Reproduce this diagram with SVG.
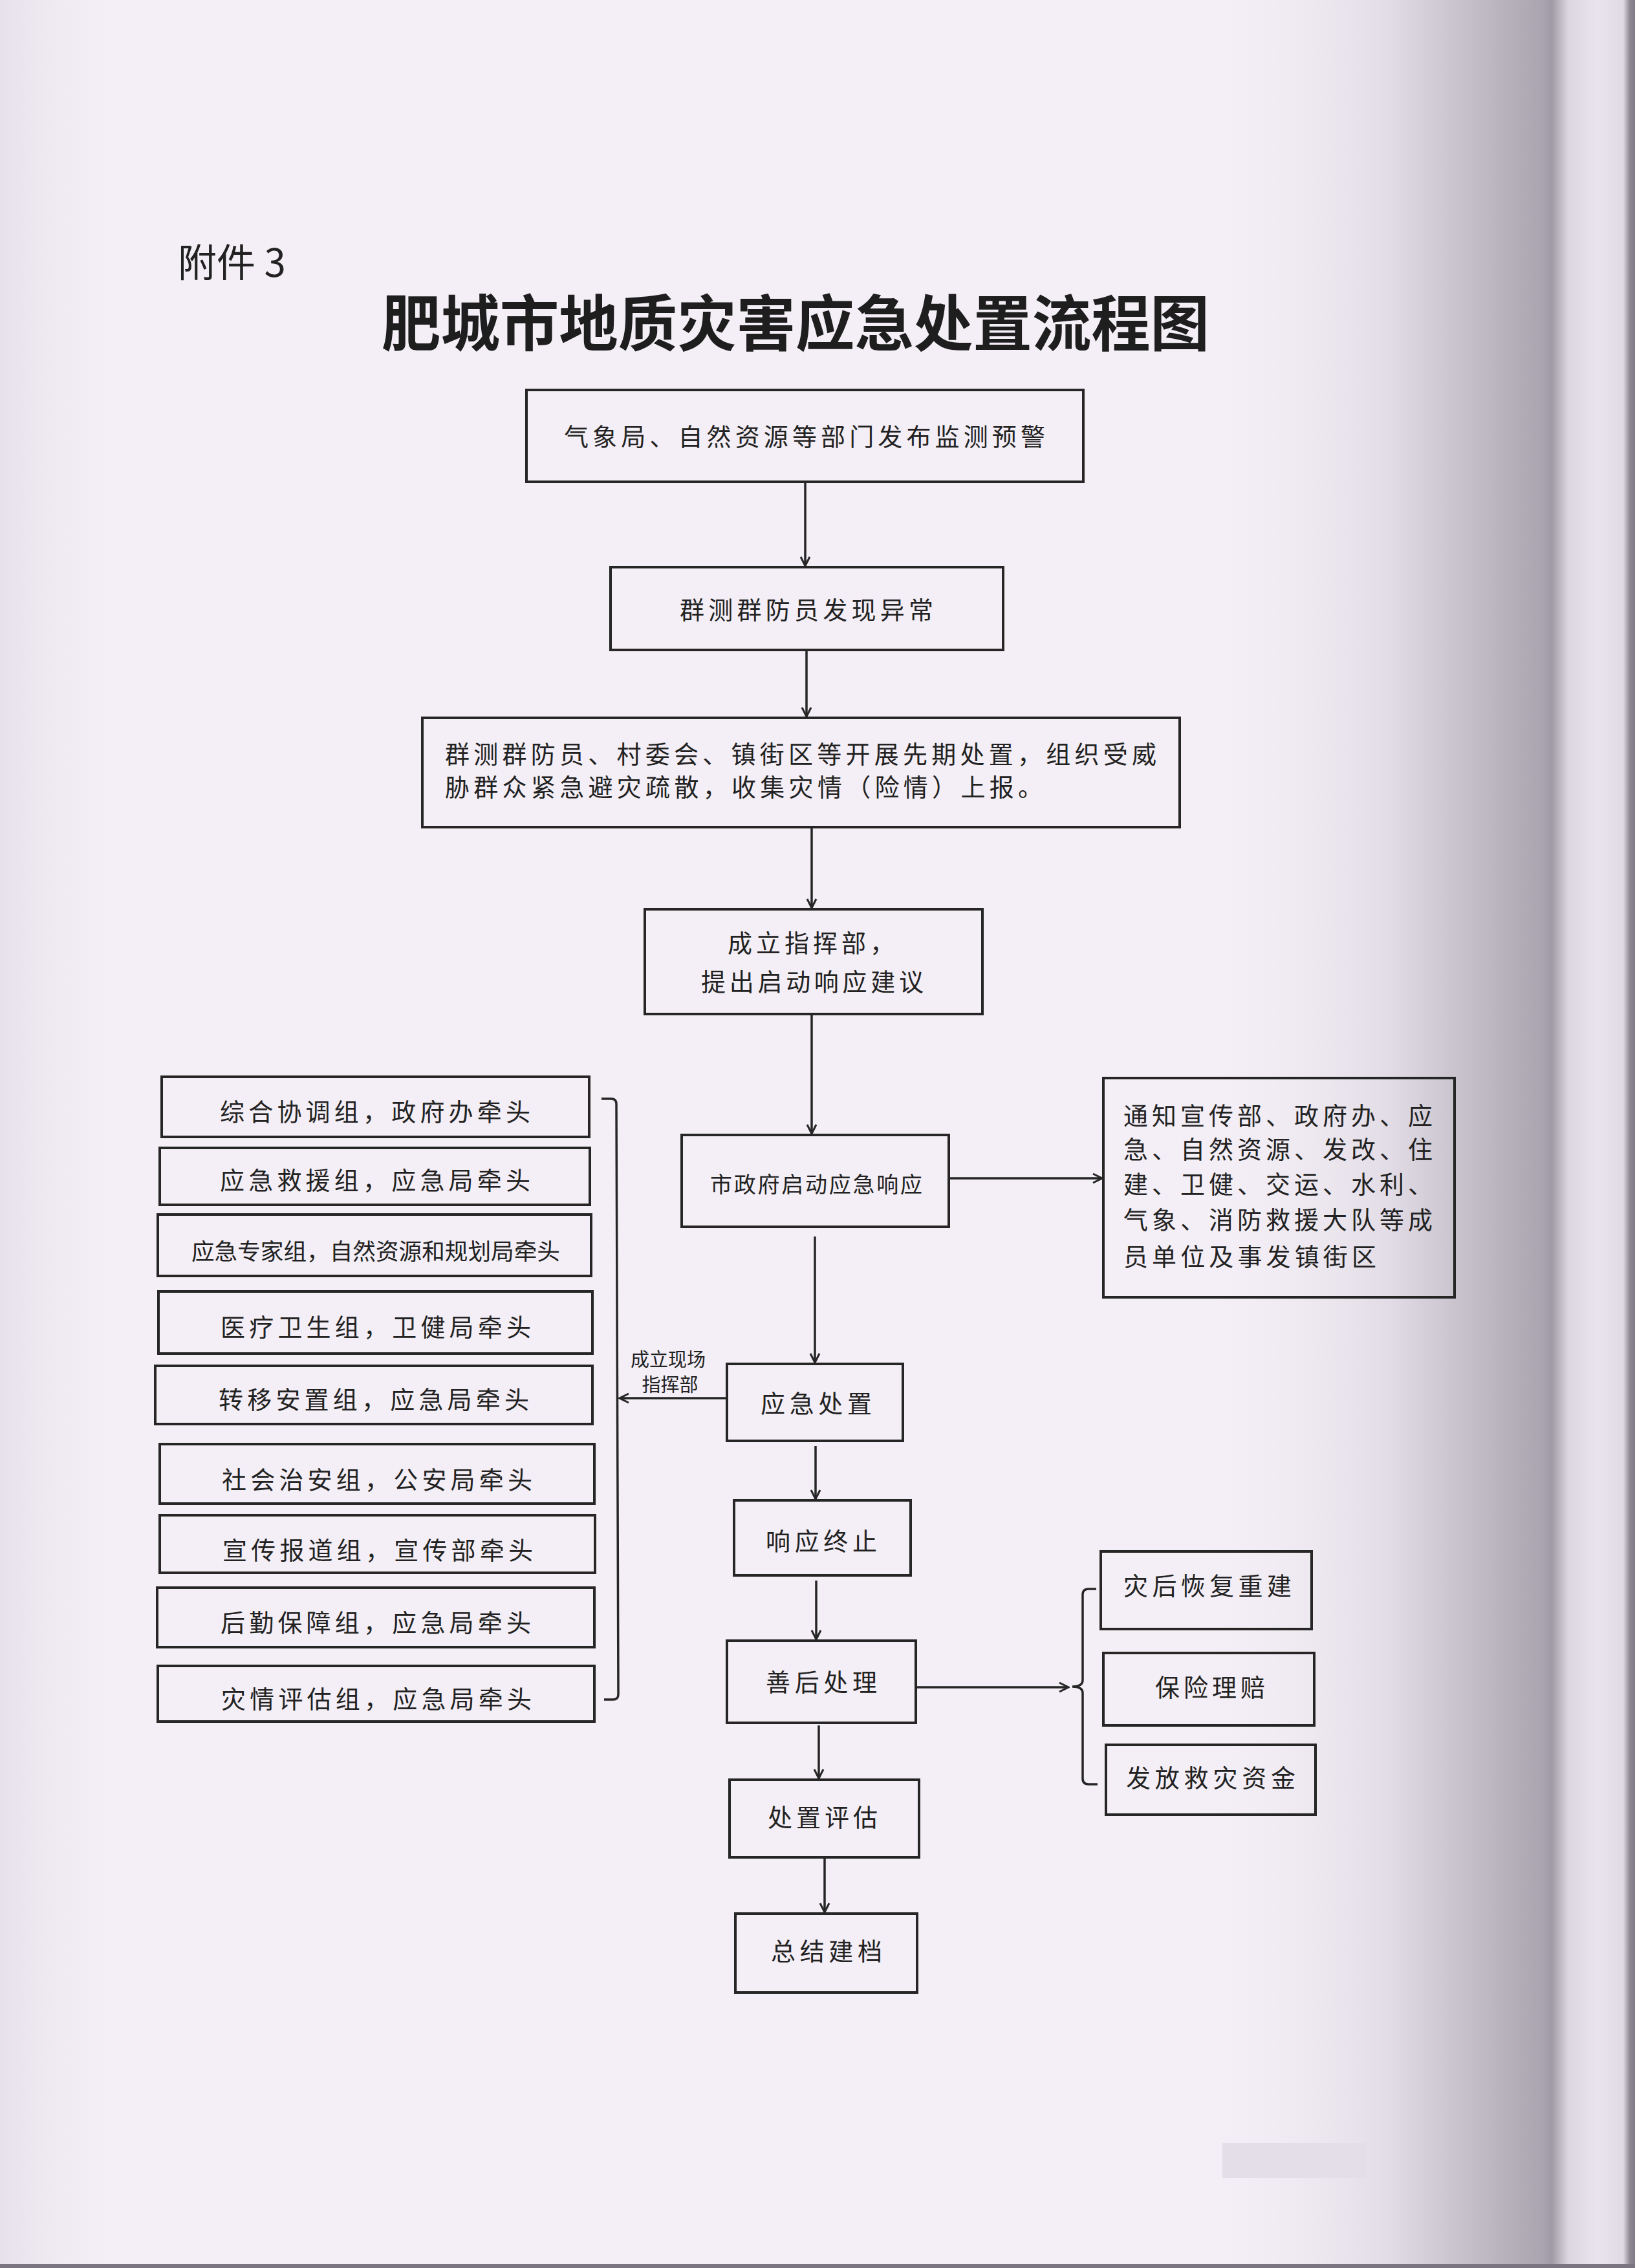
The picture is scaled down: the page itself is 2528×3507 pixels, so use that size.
<svg xmlns="http://www.w3.org/2000/svg" width="2528" height="3507" viewBox="0 0 2528 3507">
<defs>
<linearGradient id="edge" x1="1850" y1="0" x2="2528" y2="0" gradientUnits="userSpaceOnUse">
<stop offset="0" stop-color="#f4eff6" stop-opacity="0"/>
<stop offset="0.44" stop-color="#e2dce6"/>
<stop offset="0.79" stop-color="#aaa4b0"/>
<stop offset="0.81" stop-color="#a09aa6"/>
<stop offset="0.848" stop-color="#dcd6e0"/>
<stop offset="0.914" stop-color="#eae4ee"/>
<stop offset="0.973" stop-color="#e0dae4"/>
<stop offset="0.988" stop-color="#8f8a95"/>
<stop offset="1" stop-color="#7e7984"/>
</linearGradient>
<linearGradient id="ledge" x1="0" y1="0" x2="200" y2="0" gradientUnits="userSpaceOnUse">
<stop offset="0" stop-color="#e6e1ea"/>
<stop offset="1" stop-color="#f4eff6" stop-opacity="0"/>
</linearGradient>
<marker id="arr" markerUnits="userSpaceOnUse" markerWidth="18" markerHeight="18" viewBox="0 0 18 18" refX="16" refY="9" orient="auto">
<path d="M2,2 L16,9 L2,16" fill="none" stroke="#262626" stroke-width="3"/>
</marker>
</defs>
<style>
.bx{fill:none;stroke:#262626;stroke-width:4}
.ln{fill:none;stroke:#262626;stroke-width:3.5}
.t{font-family:"Noto Sans CJK SC","Noto Sans CJK JP",sans-serif;font-size:38px;fill:#222;text-anchor:middle}
.tl{font-family:"Noto Sans CJK SC","Noto Sans CJK JP",sans-serif;font-size:38px;fill:#222;text-anchor:start}
.ts{font-family:"Noto Sans CJK SC","Noto Sans CJK JP",sans-serif;font-size:29px;fill:#222;text-anchor:middle}
</style>
<rect x="0" y="0" width="2528" height="3507" fill="#f4eff6"/>
<rect x="0" y="0" width="200" height="3507" fill="url(#ledge)"/>
<rect x="1850" y="0" width="678" height="3507" fill="url(#edge)"/>
<rect x="1890" y="3314" width="224" height="54" fill="#e4dee8"/>
<rect x="0" y="3501" width="2528" height="6" fill="#7a7580"/>

<text x="275" y="428" style="font-family:'Noto Sans CJK SC',sans-serif;font-size:60px;fill:#222">附件 3</text>
<text x="590" y="535" textLength="1280" lengthAdjust="spacingAndGlyphs" style="font-family:'Noto Sans CJK SC',sans-serif;font-size:94px;font-weight:700;fill:#1e1e1e">肥城市地质灾害应急处置流程图</text>

<g id="connectors">
<line class="ln" x1="1245" y1="745" x2="1245" y2="875" marker-end="url(#arr)"/>
<line class="ln" x1="1247" y1="1005" x2="1247" y2="1108" marker-end="url(#arr)"/>
<line class="ln" x1="1255" y1="1279" x2="1255" y2="1404" marker-end="url(#arr)"/>
<line class="ln" x1="1255" y1="1568" x2="1255" y2="1753" marker-end="url(#arr)"/>
<line class="ln" x1="1260" y1="1912" x2="1260" y2="2107" marker-end="url(#arr)"/>
<line class="ln" x1="1261" y1="2236" x2="1261" y2="2318" marker-end="url(#arr)"/>
<line class="ln" x1="1262" y1="2444" x2="1262" y2="2535" marker-end="url(#arr)"/>
<line class="ln" x1="1266" y1="2668" x2="1266" y2="2750" marker-end="url(#arr)"/>
<line class="ln" x1="1275" y1="2874" x2="1275" y2="2957" marker-end="url(#arr)"/>
<line class="ln" x1="1467" y1="1822" x2="1704" y2="1822" marker-end="url(#arr)"/>
<line class="ln" x1="1124" y1="2162" x2="958" y2="2162" marker-end="url(#arr)"/>
<line class="ln" x1="1416" y1="2609" x2="1652" y2="2609" marker-end="url(#arr)"/>
<path class="ln" d="M930 1699 H945 Q953 1699 953 1707 L956 2620 Q956 2628 948 2628 H934"/>
<path class="ln" d="M1695 2457 H1683 Q1674 2457 1674 2466 V2598 Q1674 2608 1658 2608 Q1674 2608 1674 2618 V2750 Q1674 2759 1683 2759 H1697"/>
<text class="ts" x="1033" y="2113">成立现场</text>
<text class="ts" x="1036" y="2152">指挥部</text>
</g>

<g id="n1"><rect class="bx" x="814" y="603" width="861" height="142"/>
<text class="t" x="1244" y="689" textLength="744" lengthAdjust="spacing">气象局、自然资源等部门发布监测预警</text></g>

<g id="n2"><rect class="bx" x="944" y="877" width="607" height="128"/>
<text class="t" x="1247" y="957" textLength="392" lengthAdjust="spacing">群测群防员发现异常</text></g>

<g id="n3"><rect class="bx" x="653" y="1110" width="1171" height="169"/>
<text class="tl" x="688" y="1180" textLength="1100" lengthAdjust="spacing">群测群防员、村委会、镇街区等开展先期处置，组织受威</text>
<text class="tl" x="688" y="1231" textLength="924" lengthAdjust="spacing">胁群众紧急避灾疏散，收集灾情（险情）上报。</text></g>

<g id="n4"><rect class="bx" x="997" y="1406" width="522" height="162"/>
<text class="t" x="1254" y="1472" textLength="258" lengthAdjust="spacing">成立指挥部，</text>
<text class="t" x="1256" y="1532" textLength="344" lengthAdjust="spacing">提出启动响应建议</text></g>

<g id="n5"><rect class="bx" x="1054" y="1755" width="413" height="142"/>
<text class="t" x="1262" y="1844" style="font-size:34px" textLength="328" lengthAdjust="spacing">市政府启动应急响应</text></g>

<g id="n6"><rect class="bx" x="1706" y="1667" width="543" height="339"/>
<text class="tl" x="1737" y="1739" textLength="478" lengthAdjust="spacing">通知宣传部、政府办、应</text>
<text class="tl" x="1737" y="1791" textLength="478" lengthAdjust="spacing">急、自然资源、发改、住</text>
<text class="tl" x="1737" y="1845" textLength="478" lengthAdjust="spacing">建、卫健、交运、水利、</text>
<text class="tl" x="1737" y="1900" textLength="478" lengthAdjust="spacing">气象、消防救援大队等成</text>
<text class="tl" x="1737" y="1957" textLength="391" lengthAdjust="spacing">员单位及事发镇街区</text></g>

<g id="g1"><rect class="bx" x="250" y="1665" width="661" height="93"/>
<text class="t" x="580" y="1733" textLength="480" lengthAdjust="spacing">综合协调组，政府办牵头</text></g>
<g id="g2"><rect class="bx" x="247" y="1775" width="665" height="88"/>
<text class="t" x="580" y="1839" textLength="480" lengthAdjust="spacing">应急救援组，应急局牵头</text></g>
<g id="g3"><rect class="bx" x="244" y="1878" width="670" height="95"/>
<text class="t" x="581" y="1948" style="font-size:35px" textLength="570" lengthAdjust="spacingAndGlyphs">应急专家组，自然资源和规划局牵头</text></g>
<g id="g4"><rect class="bx" x="245" y="1997" width="671" height="96"/>
<text class="t" x="581" y="2066" textLength="480" lengthAdjust="spacing">医疗卫生组，卫健局牵头</text></g>
<g id="g5"><rect class="bx" x="240" y="2112" width="676" height="90"/>
<text class="t" x="578" y="2178" textLength="480" lengthAdjust="spacing">转移安置组，应急局牵头</text></g>
<g id="g6"><rect class="bx" x="247" y="2233" width="672" height="92"/>
<text class="t" x="583" y="2302" textLength="480" lengthAdjust="spacing">社会治安组，公安局牵头</text></g>
<g id="g7"><rect class="bx" x="247" y="2343" width="673" height="89"/>
<text class="t" x="584" y="2411" textLength="480" lengthAdjust="spacing">宣传报道组，宣传部牵头</text></g>
<g id="g8"><rect class="bx" x="243" y="2455" width="676" height="92"/>
<text class="t" x="581" y="2523" textLength="480" lengthAdjust="spacing">后勤保障组，应急局牵头</text></g>
<g id="g9"><rect class="bx" x="244" y="2576" width="675" height="86"/>
<text class="t" x="582" y="2641" textLength="480" lengthAdjust="spacing">灾情评估组，应急局牵头</text></g>

<g id="n7"><rect class="bx" x="1124" y="2109" width="272" height="119"/>
<text class="t" x="1262" y="2184" textLength="172" lengthAdjust="spacing">应急处置</text></g>
<g id="n8"><rect class="bx" x="1135" y="2320" width="273" height="116"/>
<text class="t" x="1270" y="2397" textLength="172" lengthAdjust="spacing">响应终止</text></g>
<g id="n9"><rect class="bx" x="1124" y="2537" width="292" height="127"/>
<text class="t" x="1270" y="2615" textLength="172" lengthAdjust="spacing">善后处理</text></g>
<g id="n10"><rect class="bx" x="1128" y="2752" width="293" height="120"/>
<text class="t" x="1272" y="2824" textLength="170" lengthAdjust="spacing">处置评估</text></g>
<g id="n11"><rect class="bx" x="1137" y="2959" width="281" height="122"/>
<text class="t" x="1278" y="3031" textLength="172" lengthAdjust="spacing">总结建档</text></g>

<g id="r1"><rect class="bx" x="1702" y="2399" width="326" height="120"/>
<text class="t" x="1867" y="2466" textLength="260" lengthAdjust="spacing">灾后恢复重建</text></g>
<g id="r2"><rect class="bx" x="1706" y="2556" width="326" height="112"/>
<text class="t" x="1871" y="2623" textLength="170" lengthAdjust="spacing">保险理赔</text></g>
<g id="r3"><rect class="bx" x="1710" y="2698" width="324" height="108"/>
<text class="t" x="1872" y="2763" textLength="262" lengthAdjust="spacing">发放救灾资金</text></g>
</svg>
